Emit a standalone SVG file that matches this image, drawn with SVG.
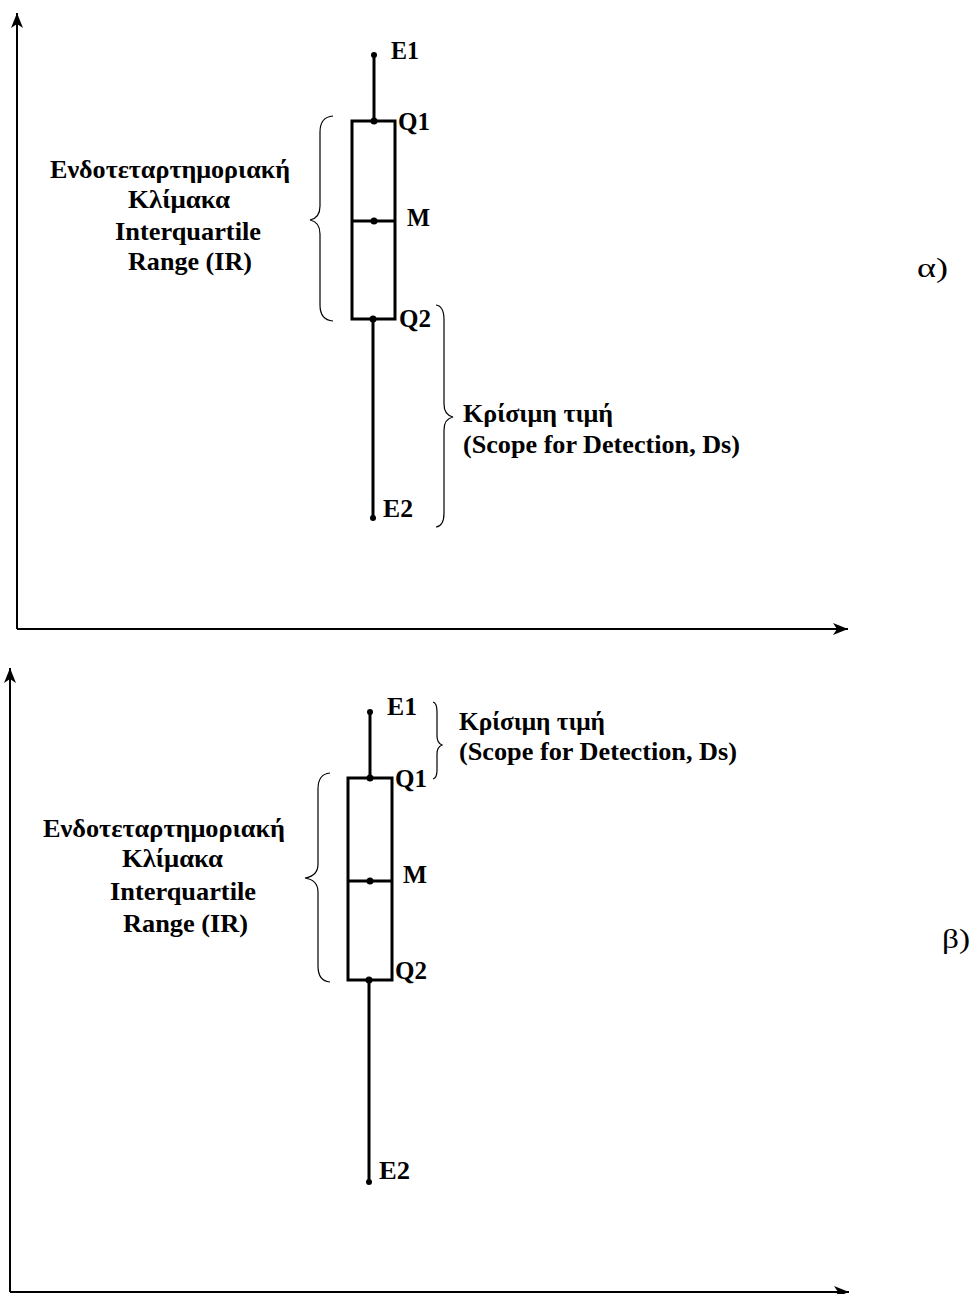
<svg xmlns="http://www.w3.org/2000/svg" width="973" height="1294" viewBox="0 0 973 1294">
<style>
.axis{stroke:#000;stroke-width:2;fill:none}
.box{stroke:#000;stroke-width:3;fill:none}
.brace{stroke:#000;stroke-width:1.2;fill:none}
.lbl{font-family:"Liberation Serif","Times New Roman",serif;font-weight:bold;font-size:25px;fill:#000}
.tag{font-family:"Liberation Serif","Times New Roman",serif;font-size:28px;fill:#000}
</style>
<defs>
<marker id="arr" markerUnits="userSpaceOnUse" markerWidth="16" markerHeight="12" refX="15" refY="6" orient="auto">
<path d="M0,0 L15,6 L0,12 L4,6 z" fill="#000"/>
</marker>
</defs>
<rect width="973" height="1294" fill="#fff"/>

<g id="connectors">
<line class="axis" x1="17" y1="629" x2="17" y2="13" marker-end="url(#arr)"/>
<line class="axis" x1="17" y1="629" x2="848" y2="629" marker-end="url(#arr)"/>
<line class="axis" x1="10" y1="1292" x2="10" y2="668" marker-end="url(#arr)"/>
<line class="axis" x1="10" y1="1292" x2="849" y2="1292" marker-end="url(#arr)"/>
</g>

<g id="boxplot-a">
<line class="box" x1="374" y1="55" x2="374" y2="122"/>
<rect class="box" x="352" y="121" width="43" height="198"/>
<line class="box" x1="352" y1="221" x2="395" y2="221"/>
<line class="box" x1="373" y1="319" x2="373" y2="518"/>
<circle cx="374" cy="55" r="3"/>
<circle cx="374" cy="121" r="3.5"/>
<circle cx="374" cy="221" r="3.5"/>
<circle cx="373" cy="319" r="3.5"/>
<circle cx="373" cy="518" r="3"/>
<text class="lbl" x="391" y="59" textLength="28" lengthAdjust="spacingAndGlyphs">E1</text>
<text class="lbl" x="398" y="130" textLength="32" lengthAdjust="spacingAndGlyphs">Q1</text>
<text class="lbl" x="407" y="226" textLength="23" lengthAdjust="spacingAndGlyphs">M</text>
<text class="lbl" x="399" y="327" textLength="32" lengthAdjust="spacingAndGlyphs">Q2</text>
<text class="lbl" x="383" y="517" textLength="30" lengthAdjust="spacingAndGlyphs">E2</text>
</g>

<g id="ir-a">
<path class="brace" d="M333,116 Q320,117 320,132 L320,206 Q320,218 310,220 Q320,222 320,234 L320,305 Q320,320 333,321"/>
<text class="lbl" x="50" y="178" textLength="240" lengthAdjust="spacingAndGlyphs">Ενδοτεταρτημοριακή</text>
<text class="lbl" x="128" y="208" textLength="102" lengthAdjust="spacingAndGlyphs">Κλίμακα</text>
<text class="lbl" x="115" y="240" textLength="146" lengthAdjust="spacingAndGlyphs">Interquartile</text>
<text class="lbl" x="128" y="270" textLength="124" lengthAdjust="spacingAndGlyphs">Range (IR)</text>
</g>

<g id="ds-a">
<path class="brace" d="M436,305 Q444,306 444,320 L444,404 Q444,415 453,417 Q444,419 444,430 L444,513 Q444,526 436,527"/>
<text class="lbl" x="463" y="422" textLength="150" lengthAdjust="spacingAndGlyphs">Κρίσιμη τιμή</text>
<text class="lbl" x="463" y="453" textLength="277" lengthAdjust="spacingAndGlyphs">(Scope for Detection, Ds)</text>
</g>

<g id="label-a">
<text class="tag" x="917" y="277" textLength="31" lengthAdjust="spacingAndGlyphs">α)</text>
</g>

<g id="boxplot-b">
<line class="box" x1="370" y1="712" x2="370" y2="778"/>
<rect class="box" x="348" y="778" width="44" height="202"/>
<line class="box" x1="348" y1="881" x2="392" y2="881"/>
<line class="box" x1="369" y1="980" x2="369" y2="1182"/>
<circle cx="370" cy="712" r="3"/>
<circle cx="370" cy="778" r="3.5"/>
<circle cx="370" cy="881" r="3.5"/>
<circle cx="369" cy="980" r="3.5"/>
<circle cx="369" cy="1182" r="3"/>
<text class="lbl" x="387" y="715" textLength="30" lengthAdjust="spacingAndGlyphs">E1</text>
<text class="lbl" x="395" y="787" textLength="32" lengthAdjust="spacingAndGlyphs">Q1</text>
<text class="lbl" x="403" y="883" textLength="24" lengthAdjust="spacingAndGlyphs">M</text>
<text class="lbl" x="395" y="979" textLength="32" lengthAdjust="spacingAndGlyphs">Q2</text>
<text class="lbl" x="379" y="1179" textLength="31" lengthAdjust="spacingAndGlyphs">E2</text>
</g>

<g id="ir-b">
<path class="brace" d="M330,773 Q318,774 318,789 L318,864 Q318,876 305,878 Q318,880 318,892 L318,966 Q318,981 330,982"/>
<text class="lbl" x="43" y="837" textLength="242" lengthAdjust="spacingAndGlyphs">Ενδοτεταρτημοριακή</text>
<text class="lbl" x="122" y="867" textLength="101" lengthAdjust="spacingAndGlyphs">Κλίμακα</text>
<text class="lbl" x="110" y="900" textLength="146" lengthAdjust="spacingAndGlyphs">Interquartile</text>
<text class="lbl" x="123" y="932" textLength="125" lengthAdjust="spacingAndGlyphs">Range (IR)</text>
</g>

<g id="ds-b">
<path class="brace" d="M433,702 Q437,703 437,712 L437,736 Q437,743 442,745 Q437,747 437,754 L437,770 Q437,778 433,779"/>
<text class="lbl" x="459" y="730" textLength="146" lengthAdjust="spacingAndGlyphs">Κρίσιμη τιμή</text>
<text class="lbl" x="459" y="760" textLength="278" lengthAdjust="spacingAndGlyphs">(Scope for Detection, Ds)</text>
</g>

<g id="label-b">
<text class="tag" x="942" y="948" textLength="28" lengthAdjust="spacingAndGlyphs">β)</text>
</g>
</svg>
